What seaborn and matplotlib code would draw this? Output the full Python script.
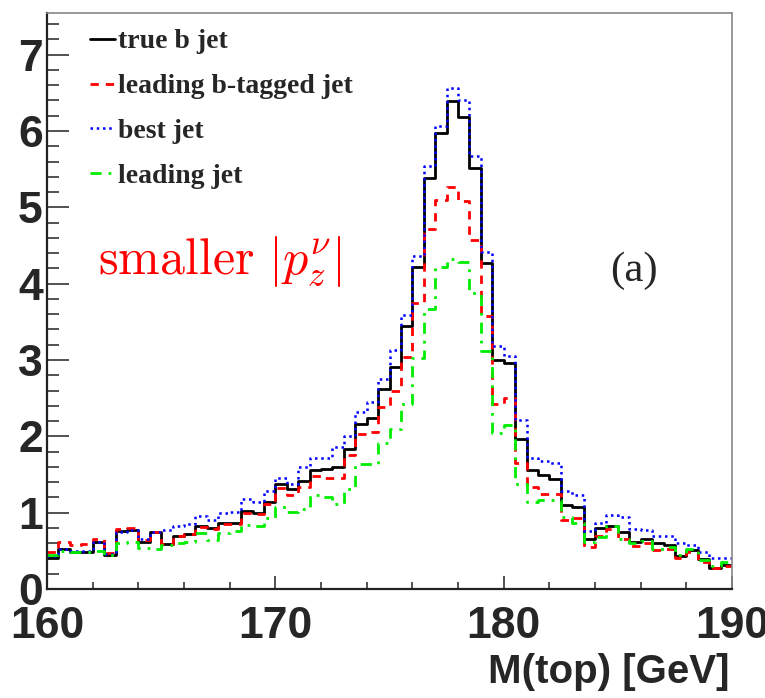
import numpy as np
import pandas as pd
import matplotlib
matplotlib.use("Agg")
import matplotlib.pyplot as plt
import seaborn as sns
from matplotlib.ticker import MultipleLocator

sns.set_theme(style="ticks", rc={"mathtext.fontset": "cm"})
plt.rcParams["font.family"] = ["Liberation Sans", "DejaVu Sans"]

# M(top) histogram, 0.5 GeV bins from 160 to 190 GeV
bin_edges = np.arange(160, 190.5, 0.5)

true_b_jet = [0.41, 0.52, 0.49, 0.49, 0.61, 0.45, 0.76, 0.77, 0.62, 0.75,
              0.59, 0.69, 0.72, 0.83, 0.80, 0.87, 0.87, 1.02, 1.00, 1.14,
              1.38, 1.31, 1.41, 1.56, 1.57, 1.60, 1.83, 2.16, 2.24, 2.62,
              2.91, 3.45, 4.22, 5.38, 5.98, 6.39, 6.19, 5.51, 4.27, 3.00,
              2.96, 1.97, 1.56, 1.50, 1.44, 1.10, 1.08, 0.66, 0.80, 0.83,
              0.75, 0.62, 0.65, 0.60, 0.57, 0.43, 0.51, 0.39, 0.28, 0.31]

leading_btag_jet = [0.49, 0.61, 0.58, 0.59, 0.66, 0.47, 0.78, 0.80, 0.64, 0.75,
                    0.59, 0.69, 0.72, 0.81, 0.79, 0.85, 0.85, 1.00, 0.98, 1.12,
                    1.32, 1.23, 1.33, 1.48, 1.46, 1.46, 1.76, 2.03, 2.06, 2.39,
                    2.59, 3.04, 3.75, 4.71, 5.10, 5.27, 5.08, 4.57, 3.57, 2.43,
                    2.50, 1.65, 1.33, 1.25, 1.25, 0.91, 0.93, 0.55, 0.70, 0.78,
                    0.65, 0.56, 0.60, 0.51, 0.53, 0.40, 0.49, 0.36, 0.27, 0.30]

best_jet = [0.43, 0.52, 0.50, 0.50, 0.61, 0.46, 0.75, 0.77, 0.65, 0.75,
            0.77, 0.82, 0.85, 0.96, 0.90, 1.00, 1.01, 1.18, 1.14, 1.28,
            1.45, 1.37, 1.60, 1.72, 1.72, 1.86, 2.00, 2.32, 2.45, 2.75,
            3.13, 3.59, 4.36, 5.54, 6.06, 6.56, 6.41, 5.67, 4.42, 3.19,
            3.05, 2.21, 1.71, 1.68, 1.65, 1.28, 1.23, 0.76, 0.87, 0.97,
            0.94, 0.78, 0.77, 0.69, 0.69, 0.60, 0.57, 0.49, 0.40, 0.40]

leading_jet = [0.44, 0.50, 0.49, 0.49, 0.50, 0.44, 0.60, 0.62, 0.54, 0.53,
               0.57, 0.60, 0.62, 0.74, 0.64, 0.74, 0.76, 0.84, 0.82, 0.93,
               1.08, 1.01, 1.05, 1.23, 1.20, 1.12, 1.31, 1.64, 1.64, 1.91,
               2.09, 2.43, 3.02, 3.67, 4.22, 4.32, 4.28, 3.88, 3.12, 2.04,
               2.15, 1.38, 1.14, 1.16, 1.16, 0.94, 0.86, 0.62, 0.68, 0.82,
               0.66, 0.60, 0.63, 0.53, 0.55, 0.45, 0.52, 0.38, 0.30, 0.35]

series = {
    "true b jet": true_b_jet,
    "leading b-tagged jet": leading_btag_jet,
    "best jet": best_jet,
    "leading jet": leading_jet,
}
styles = {
    "true b jet": dict(color="black", linestyle="-", linewidth=2.0),
    "leading b-tagged jet": dict(color="#ff0000", linestyle=(0, (3, 2.5)), linewidth=2.0),
    "best jet": dict(color="#0000ff", linestyle=(0, (1, 1.5)), linewidth=1.8),
    "leading jet": dict(color="#00ee00", linestyle=(0, (4, 2.5, 1, 2.5)), linewidth=2.0),
}

centers = (bin_edges[:-1] + bin_edges[1:]) / 2
df = pd.concat([pd.DataFrame({"mass": centers, "weight": v, "sample": k})
                for k, v in series.items()], ignore_index=True)

fig = plt.figure(figsize=(7.65, 6.98), dpi=100)
ax = fig.add_axes([47 / 765, 1 - 589 / 698, (732 - 47) / 765, (589 - 12.7) / 698])

for name in series:
    sns.histplot(data=df[df["sample"] == name], x="mass", weights="weight",
                 binwidth=0.5, binrange=(160, 190), element="step", fill=False,
                 ax=ax, label=name, **styles[name])

ax.set_xlim(160, 190)
ax.set_ylim(0, 7.55)
ax.set_ylabel("")
ax.set_xlabel("")

ax.xaxis.set_major_locator(MultipleLocator(10))
ax.xaxis.set_minor_locator(MultipleLocator(2))
ax.yaxis.set_major_locator(MultipleLocator(1))
ax.yaxis.set_minor_locator(MultipleLocator(0.2))
ax.tick_params(axis="both", which="both", direction="in", color="#333333",
               width=1.2, top=False, right=False)
ax.tick_params(axis="y", which="major", length=16, pad=3)
ax.tick_params(axis="y", which="minor", length=8.5)
ax.tick_params(axis="x", which="major", length=9.5, pad=12)
ax.tick_params(axis="x", which="minor", length=5)
for lab in ax.get_xticklabels() + ax.get_yticklabels():
    lab.set_fontsize(32)
    lab.set_fontweight("bold")

for side in ["left", "bottom"]:
    ax.spines[side].set_color("#222222")
    ax.spines[side].set_linewidth(1.6)
for side in ["top", "right"]:
    ax.spines[side].set_color("#888888")
    ax.spines[side].set_linewidth(1.2)

fig.text(730 / 765, 1 - 672 / 698, "M(top) [GeV]", ha="right", va="center",
         fontsize=29, fontweight="bold")

leg = ax.legend(loc="upper left", bbox_to_anchor=(90 / 765, 1 - 29 / 698),
                bbox_transform=fig.transFigure, frameon=False,
                prop={"family": "Liberation Serif", "weight": "bold", "size": 20},
                handlelength=0.9, handletextpad=0.12, labelspacing=0.7,
                borderpad=0, borderaxespad=0)

fig.text(98 / 765, 1 - 262 / 698, r"$\mathrm{smaller}\ |p_z^\nu|$",
         color="#ff0000", fontsize=36, ha="left", va="center")
fig.text(634 / 765, 1 - 271 / 698, "(a)", fontsize=31, ha="center", va="center",
         family="Liberation Serif")

fig.savefig("out.png", dpi=100)
